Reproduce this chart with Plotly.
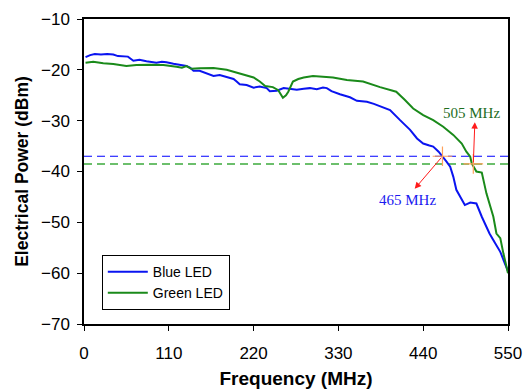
import plotly.graph_objects as go

# ---- data ----
blue_f = [2, 8, 14, 22, 30, 38, 44, 50, 57, 64, 72, 81, 88, 94, 101, 107, 116, 125, 133, 138,
          142, 150, 159, 168, 176, 185, 194, 198, 202, 211, 220, 228, 237, 241, 250, 259, 267,
          276, 285, 293, 302, 310, 315, 321, 332, 345, 354, 367, 376, 384, 397, 410, 423, 432,
          440, 448, 453, 460, 465, 470, 475, 479, 483, 488, 494, 501, 509, 516, 521, 526, 533,
          540, 546, 550]
blue_p = [-17.5, -17.1, -16.9, -17.0, -16.9, -17.0, -17.3, -17.3, -17.4, -18.2, -18.0, -18.3,
          -18.4, -18.6, -18.4, -18.5, -18.8, -19.05, -19.25, -19.6, -20.2, -20.2, -20.7, -21.2,
          -21.0, -21.4, -21.8, -22.3, -22.85, -23.0, -23.5, -23.3, -23.6, -24.2, -24.1, -23.6,
          -23.8, -23.9, -23.7, -23.6, -23.8, -23.5, -23.6, -24.2, -24.8, -25.4, -26.1, -26.3,
          -26.7, -27.1, -27.9, -29.9, -31.8, -33.5, -34.5, -34.9, -35.1, -36.1, -37.0, -38.0,
          -39.05, -41.0, -43.6, -45.0, -46.6, -46.1, -46.3, -48.9, -50.5, -52.2, -54.0, -55.8,
          -58.1, -59.6]

green_f = [2, 12, 25, 38, 55, 68, 85, 103, 120, 127, 133, 139, 150, 168, 185, 202, 212, 220,
           228, 235, 245, 252, 258, 262, 265, 271, 278, 285, 297, 310, 323, 341, 362, 384, 405,
           416, 427, 440, 453, 466, 479, 490, 496, 501, 503, 509, 516, 522, 531, 535, 540, 544,
           550]
green_p = [-18.6, -18.4, -18.7, -18.85, -19.25, -19.05, -19.0, -19.05, -19.4, -19.6, -19.25,
           -19.8, -19.7, -19.65, -20.0, -20.7, -21.1, -21.5, -22.3, -23.2, -23.4, -24.0, -25.5,
           -25.0, -24.3, -22.3, -21.8, -21.5, -21.2, -21.3, -21.5, -22.0, -22.3, -23.4, -24.3,
           -25.9, -27.6, -28.9, -29.9, -31.2, -32.8, -34.5, -36.1, -37.1, -38.4, -40.0, -40.2,
           -44.3, -48.9, -52.2, -53.1, -56.1, -60.0]

x_ticks = [0, 110, 220, 330, 440, 550]
y_ticks = [-70, -60, -50, -40, -30, -20, -10]

blue_level = -37.0
green_level = -38.5
blue_cut = 465
green_cut = 505

BLUE = "#0a14f0"
GREEN = "#1a8a1a"
RED = "#ff1a1a"

fig = go.Figure()

# threshold dashed lines
fig.add_trace(go.Scatter(x=[x_ticks[0], x_ticks[-1]], y=[blue_level, blue_level], mode="lines",
                         line=dict(color="#0000ff", width=1.2, dash="8px,5px"), showlegend=False,
                         hoverinfo="skip"))
fig.add_trace(go.Scatter(x=[x_ticks[0], x_ticks[-1]], y=[green_level, green_level], mode="lines",
                         line=dict(color="#6cbf6c", width=2, dash="8px,5px"), showlegend=False,
                         hoverinfo="skip"))

fig.add_trace(go.Scatter(x=blue_f, y=blue_p, mode="lines", name="Blue LED",
                         line=dict(color=BLUE, width=2)))
fig.add_trace(go.Scatter(x=green_f, y=green_p, mode="lines", name="Green LED",
                         line=dict(color=GREEN, width=2)))

# cut-off markers
fig.add_trace(go.Scatter(x=[blue_cut, green_cut], y=[blue_level, green_level], mode="markers",
                         marker=dict(symbol="cross-thin-open", size=14,
                                     line=dict(color=RED, width=1.2)),
                         showlegend=False, hoverinfo="skip"))

# arrows
fig.add_annotation(x=429, y=-43.4, ax=blue_cut, ay=blue_level, xref="x", yref="y",
                   axref="x", ayref="y", text="", showarrow=True, arrowhead=2,
                   arrowsize=1.3, arrowwidth=1, arrowcolor=RED)
fig.add_annotation(x=507, y=-30.3, ax=green_cut, ay=green_level, xref="x", yref="y",
                   axref="x", ayref="y", text="", showarrow=True, arrowhead=2,
                   arrowsize=1.3, arrowwidth=1, arrowcolor=RED)
fig.add_annotation(x=420, y=-45.6, xref="x", yref="y", text="465 MHz", showarrow=False,
                   font=dict(family="Liberation Serif", size=15, color="#1a1af0"))
fig.add_annotation(x=503, y=-28.4, xref="x", yref="y", text="505 MHz", showarrow=False,
                   font=dict(family="Liberation Serif", size=15, color="#1e6e1e"))

axis_common = dict(showgrid=False, zeroline=False, showline=True, linecolor="black",
                   linewidth=1.5, mirror=True, ticks="outside", ticklen=5, tickcolor="black",
                   automargin=False,
                   tickfont=dict(family="Arial, Liberation Sans", size=17, color="black"))

fig.update_xaxes(range=[x_ticks[0], x_ticks[-1]], tickvals=x_ticks, ticklabelstandoff=8,
                 title=dict(text="<b>Frequency (MHz)</b>", standoff=10,
                            font=dict(family="Arial, Liberation Sans", size=19, color="black")),
                 **axis_common)
fig.update_yaxes(range=[y_ticks[0], y_ticks[-1]], tickvals=y_ticks, ticklabelstandoff=4,
                 title=dict(text="<b>Electrical Power (dBm)</b>", standoff=8,
                            font=dict(family="Arial, Liberation Sans", size=17.5, color="black")),
                 **axis_common)

fig.update_layout(
    width=525, height=391,
    margin=dict(l=84, r=17, t=19, b=67),
    plot_bgcolor="white", paper_bgcolor="white",
    legend=dict(x=0.042, y=0.226, xanchor="left", yanchor="top",
                bordercolor="black", borderwidth=1, bgcolor="white", itemwidth=40,
                font=dict(family="Arial, Liberation Sans", size=14, color="black"),
                tracegroupgap=0),
)

fig.write_html("out.html")
